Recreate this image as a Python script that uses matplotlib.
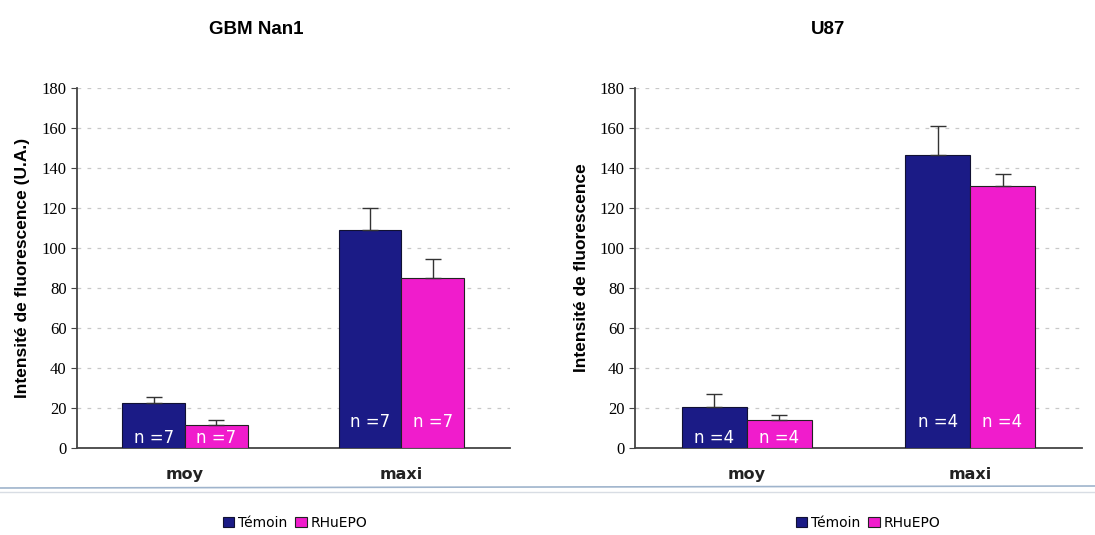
import matplotlib.pyplot as plt
import numpy as np

# données
categories = ["moy", "maxi"]
series = ["Témoin", "RHuEPO"]

gbm_temoin = [22.5, 109]
gbm_temoin_err = [3, 11]
gbm_epo = [11.5, 85]
gbm_epo_err = [2.5, 9.5]
gbm_n = ["n =7", "n =7"]

u87_temoin = [20.7, 146.5]
u87_temoin_err = [6.5, 14.5]
u87_epo = [14, 131]
u87_epo_err = [2.5, 6]
u87_n = ["n =4", "n =4"]

navy = "#1b1b86"
magenta = "#f01ccc"

fig = plt.figure(figsize=(10.95, 5.35), dpi=100)

def panel(ax, temoin, t_err, epo, e_err, nlab, ylabel):
    x = np.arange(len(categories))
    w = 0.29
    ax.bar(x - w/2, temoin, w, color=navy, edgecolor="#111133", linewidth=0.8,
           yerr=[np.zeros(2), t_err], error_kw=dict(ecolor="#333333", capsize=6, elinewidth=1), label=series[0], zorder=3)
    ax.bar(x + w/2, epo, w, color=magenta, edgecolor="#222222", linewidth=0.8,
           yerr=[np.zeros(2), e_err], error_kw=dict(ecolor="#333333", capsize=6, elinewidth=1), label=series[1], zorder=3)
    for i in range(len(categories)):
        yy = 5 if i == 0 else 13
        ax.text(x[i] - w/2, yy, nlab[i], color="white", ha="center", va="center", fontsize=12, zorder=4)
        ax.text(x[i] + w/2, yy, nlab[i], color="white", ha="center", va="center", fontsize=12, zorder=4)
    ax.set_xlim(-0.5, 1.5)
    ax.set_ylim(0, 180)
    ax.set_yticks(range(0, 181, 20))
    ax.set_yticklabels([str(v) for v in range(0, 181, 20)], family="Liberation Serif", fontsize=12)
    ax.set_xticks(x)
    ax.set_xticklabels(categories, fontsize=11.5, fontweight="bold", color="#222222")
    ax.tick_params(axis="x", length=0, pad=14)
    ax.tick_params(axis="y", length=4, direction="out", color="#444444")
    ax.yaxis.grid(True, linestyle=(0, (3, 5)), color="#c8c8c8", linewidth=0.9, zorder=0)
    ax.set_axisbelow(True)
    for s in ["top", "right"]:
        ax.spines[s].set_visible(False)
    ax.spines["left"].set_color("#444444")
    ax.spines["bottom"].set_color("#444444")
    ax.spines["left"].set_linewidth(1.3)
    ax.spines["bottom"].set_linewidth(1.3)
    ax.set_ylabel(ylabel, fontsize=12.5, fontweight="bold", family="Liberation Sans", labelpad=8)
    return ax

ax1 = fig.add_axes([0.0703, 0.1626, 0.395, 0.673])
panel(ax1, gbm_temoin, gbm_temoin_err, gbm_epo, gbm_epo_err, gbm_n,
      "Intensité de fluorescence (U.A.)")
ax2 = fig.add_axes([0.580, 0.1626, 0.408, 0.673])
panel(ax2, u87_temoin, u87_temoin_err, u87_epo, u87_epo_err, u87_n,
      "Intensité de fluorescence")

fig.text(256/1095, 1 - 30/535, "GBM Nan1", ha="center", va="center", fontsize=13.5, fontweight="bold", family="Liberation Sans")
fig.text(828/1095, 1 - 30/535, "U87", ha="center", va="center", fontsize=13.5, fontweight="bold", family="Liberation Sans")

# lignes de séparation du document
fig.add_artist(plt.Line2D([0, 1], [1 - 488/535, 1 - 486/535], color="#9fb4cc", linewidth=1.2))
fig.add_artist(plt.Line2D([0, 1], [1 - 492/535, 1 - 492/535], color="#d8dde4", linewidth=1))

h, l = ax1.get_legend_handles_labels()
fig.legend(h, l, loc="center", bbox_to_anchor=(295/1095, 1 - 523/535), ncol=2, frameon=False,
           fontsize=10, handlelength=0.8, handleheight=0.8, handletextpad=0.3, columnspacing=0.6)
fig.legend(h, l, loc="center", bbox_to_anchor=(868/1095, 1 - 523/535), ncol=2, frameon=False,
           fontsize=10, handlelength=0.8, handleheight=0.8, handletextpad=0.3, columnspacing=0.6)

fig.savefig("out.png", dpi=100)
